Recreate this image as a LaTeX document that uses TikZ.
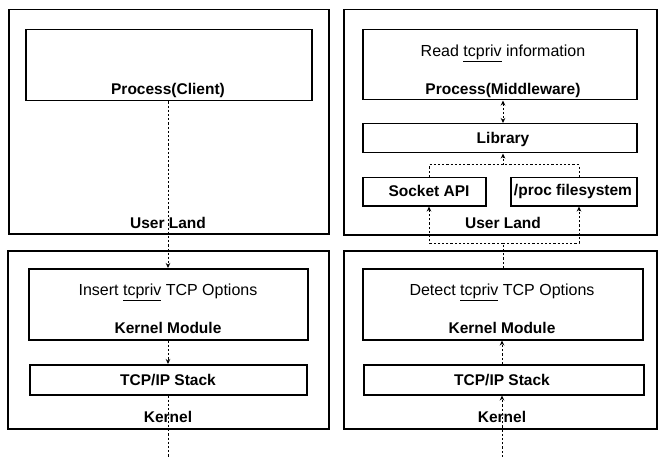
\documentclass[tikz,border=0pt]{standalone}
\usepackage{fontspec}
\setmainfont{Liberation Sans}
\usetikzlibrary{arrows.meta,calc}
\begin{document}
\begin{tikzpicture}[x=1pt,y=-1pt,
  frame/.style={draw,line width=1.5pt,anchor=north west,inner sep=0pt},
  box/.style={draw,line width=1.5pt,fill=white,anchor=north west,inner sep=0pt},
  txt/.style={font=\fontsize{15.5}{17}\selectfont\bfseries,inner sep=0pt},
  ptxt/.style={font=\fontsize{16}{18}\selectfont,inner sep=0pt},
  conn/.style={line width=1pt,dash pattern=on 2.2pt off 2pt},
  tip/.style={-{Stealth[length=5pt,width=4.5pt]}}
]
\useasboundingbox (0,0) rectangle (658,457);
% outer frames
\node[frame,minimum width=320pt,minimum height=224pt] (ulL) at (8,9) {};
\node[frame,minimum width=313pt,minimum height=225pt] (ulR) at (343,9) {};
\node[frame,minimum width=321pt,minimum height=178pt] (kL) at (7,250) {};
\node[frame,minimum width=313pt,minimum height=178pt] (kR) at (343,250) {};
% left column
\node[box,minimum width=286pt,minimum height=71pt] (pc) at (25,29) {};
\node[txt] (pct) at (168,90) {Process(Client)};
\node[txt] (ult) at (168,223) {User Land};
\node[box,minimum width=279pt,minimum height=71pt] (kmL) at (28,268) {};
\node[ptxt] (kmLt1) at (168,292) {Insert \underline{tcpriv} TCP Options};
\node[txt] (kmLt2) at (168,328) {Kernel Module};
\node[box,minimum width=277pt,minimum height=30pt] (tsL) at (29,364) {};
\node[txt] (tsLt) at (168,380) {TCP/IP Stack};
\node[txt] (kLt) at (168,417) {Kernel};
\coordinate (endL) at (168,457);
% right column
\node[box,minimum width=274pt,minimum height=70pt] (pm) at (362,29) {};
\node[ptxt] (pmt1) at (503,53) {Read \underline{tcpriv} information};
\node[txt] (pmt2) at (503,90) {Process(Middleware)};
\node[box,minimum width=274pt,minimum height=29pt] (lib) at (362,123) {};
\node[txt] (libt) at (503,139) {Library};
\node[box,minimum width=123pt,minimum height=28pt] (sock) at (362,177) {};
\node[txt] (sockt) at (429,191) {Socket API};
\node[box,minimum width=126pt,minimum height=28pt] (proc) at (510,177) {};
\node[txt] (proct) at (573,191) {/proc filesystem};
\node[txt] (urt) at (503,223) {User Land};
\node[box,minimum width=280pt,minimum height=71pt] (kmR) at (362,268) {};
\node[ptxt] (kmRt1) at (502,292) {Detect \underline{tcpriv} TCP Options};
\node[txt] (kmRt2) at (502,328) {Kernel Module};
\node[box,minimum width=280pt,minimum height=30pt] (tsR) at (363,364) {};
\node[txt] (tsRt) at (502,380) {TCP/IP Stack};
\node[txt] (kRt) at (502,417) {Kernel};
\coordinate (endR) at (502,457);
\coordinate (lt) at (429,165);
\coordinate (rt) at (579,165);
\coordinate (mt) at (503,165);
\coordinate (lb) at (429,243);
\coordinate (rb) at (579,243);
\coordinate (mb) at (503,243);
% left connectors
\draw[conn,tip] (pc.south -| pct) -- (kmL.north -| pct);
\draw[conn,tip] (kmL.south -| pct) -- (tsL.north -| pct);
\draw[conn] (tsL.south -| pct) -- (endL);
% right connectors
\draw[conn,{Stealth[length=5pt,width=4.5pt]}-{Stealth[length=5pt,width=4.5pt]}] (pm.south -| mt) -- (lib.north -| mt);
\draw[conn,tip] (mt) -- (lib.south -| mt);
\draw[conn] (sock.north -| lt) -- (lt) -- (rt) -- (proc.north -| rt);
\draw[conn] (kmR.north -| mb) -- (mb);
\draw[conn,tip] (mb) -- (lb) -- (sock.south -| lb);
\draw[conn,tip] (mb) -- (rb) -- (proc.south -| rb);
\draw[conn,tip] (tsR.north -| kmRt1) -- (kmR.south -| kmRt1);
\draw[conn,tip] (endR) -- (tsR.south -| kmRt1);
\end{tikzpicture}
\end{document}
